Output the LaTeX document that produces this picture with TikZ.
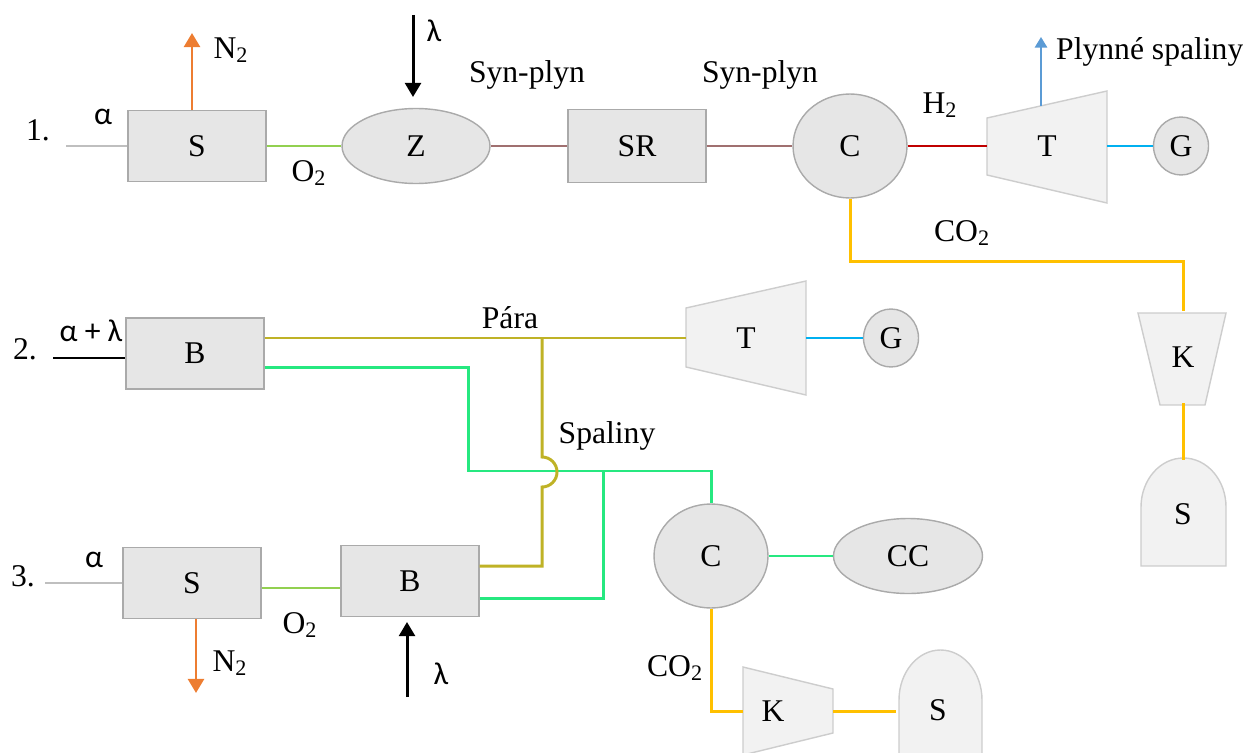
\documentclass[tikz,border=0pt]{standalone}
\usepackage{fontspec}
\setmainfont{Liberation Serif}
\newfontfamily\recke{Carlito}
\usetikzlibrary{shapes.geometric,arrows.meta}

\definecolor{vypln}{RGB}{230,230,230}
\definecolor{okraj}{RGB}{170,170,170}
\definecolor{svetla}{RGB}{242,242,242}
\definecolor{okrajsv}{RGB}{205,205,205}
\definecolor{seda}{RGB}{191,191,191}
\definecolor{oranz}{RGB}{237,125,49}
\definecolor{zelena}{RGB}{146,208,80}
\definecolor{hneda}{RGB}{160,112,112}
\definecolor{cervena}{RGB}{192,0,0}
\definecolor{azur}{RGB}{0,176,240}
\definecolor{modra}{RGB}{91,155,213}
\definecolor{zluta}{RGB}{255,192,0}
\definecolor{olivova}{RGB}{191,178,38}
\definecolor{mata}{RGB}{38,232,128}

\tikzset{
  blok/.style={draw=okraj, fill=vypln, line width=0.8pt, inner sep=0pt,
    minimum width=2.76cm, minimum height=1.42cm},
  elipsa/.style={ellipse, draw=okraj, fill=vypln, line width=0.8pt, inner sep=0pt},
  obrys/.style={draw=okrajsv, fill=svetla, line width=0.8pt},
  ramec/.style={inner sep=0pt},
  vedeni/.style={line width=1.7pt},
  sipka/.style={line width=1.7pt, -{Triangle[width=9pt,length=8pt]}},
}

\begin{document}
\begin{tikzpicture}[x=0.02cm, y=-0.02cm, font=\fontsize{18}{21}\selectfont]
\useasboundingbox (0,0) rectangle (1243,753);

% 1. radek
\node (n1) at (38,130) {1.};
\node[blok] (s1) at (197,146) {S};
\node[elipsa, minimum width=2.96cm, minimum height=1.5cm] (z) at (416,146) {Z};
\node[blok, minimum height=1.46cm] (sr) at (637,146) {SR};
\node[elipsa, minimum width=2.28cm, minimum height=2.08cm] (c1) at (850,146) {C};
\draw[obrys] (987,118) -- (1107,91) -- (1107,203) -- (987,175) -- cycle; % turbina
\node[ramec, minimum width=2.4cm, minimum height=2.24cm] (t1) at (1047,146) {T};
\node[elipsa, minimum width=1.1cm, minimum height=1.16cm] (g1) at (1181,146) {G};
\draw[obrys] (1138,313) -- (1226,313) -- (1205,405) -- (1160,405) -- cycle; % kompresor
\node[ramec, minimum width=1.76cm, minimum height=1.84cm] (k1) at (1183,357) {K};
\draw[obrys] (1141,566) -- (1141,507) arc[start angle=180, end angle=360, x radius=42.5, y radius=49]
  -- (1226,566) -- cycle; % zasobnik
\node[ramec, minimum width=1.7cm, minimum height=2.16cm] (zas1) at (1183,514) {S};

\coordinate (vstup1) at (66,146);
\coordinate (n2h) at (192,33);
\coordinate (lam1) at (413,15);
\coordinate (t1vrch) at (1041,106);
\coordinate (spal) at (1041,37);

\draw[vedeni, seda] (vstup1) -- (s1);
\draw[sipka, oranz] (s1.north -| n2h) -- (n2h);
\draw[vedeni, zelena] (s1) -- (z);
\draw[sipka] (lam1) -- ++(0,82);
\draw[vedeni, hneda] (z) -- (sr);
\draw[vedeni, hneda] (sr) -- (c1);
\draw[vedeni, cervena] (c1) -- (t1);
\draw[line width=1pt, modra, -{Triangle[width=7pt,length=6pt]}] (t1vrch) -- (spal);
\draw[vedeni, azur] (t1) -- (g1);
\draw[vedeni, zluta] (c1.south) -- ++(0,63) -| (k1);
\draw[vedeni, zluta] (k1) -- (zas1);

\node (a1) at (103,117) {\recke α};
\node (ln2a) at (231,50) {N\textsubscript{2}};
\node (lo2a) at (309,173) {O\textsubscript{2}};
\node (lla) at (434,31) {\recke λ};
\node (lsyn1) at (527,75) {Syn-plyn};
\node (lsyn2) at (760,75) {Syn-plyn};
\node (lh2) at (940,105) {H\textsubscript{2}};
\node[anchor=west] (lps) at (1050,52) {Plynné spaliny};
\node (lco2a) at (962,233) {CO\textsubscript{2}};

% 2. radek
\node (n2) at (25,349) {2.};
\node[blok] (b2) at (195,353.5) {B};
\draw[obrys] (686,308) -- (806,281) -- (806,395) -- (686,367) -- cycle;
\node[ramec, minimum width=2.4cm, minimum height=2.28cm] (t2) at (746,338) {T};
\node[elipsa, minimum width=1.1cm, minimum height=1.16cm] (g2) at (891,338) {G};

\coordinate (vstup2) at (53,358);
\coordinate (odb) at (542,338);
\coordinate (spal1) at (468,471);
\coordinate (spal2) at (603,471);

\draw[vedeni] (vstup2) -- (vstup2 -| b2.west);
\draw[vedeni, olivova] (b2.east |- t2) -- (t2);
\draw[vedeni, azur] (t2) -- (g2);

\node (alam) at (91,331) {\recke α + λ};
\node (lpara) at (510,318) {Pára};
\node (lspal) at (607,436) {Spaliny};

% 3. radek
\node (n3) at (23,576) {3.};
\node[blok] (s3) at (192,583) {S};
\node[blok] (b3) at (410,581) {B};
\node[elipsa, minimum width=2.28cm, minimum height=2.08cm] (c2) at (711,556) {C};
\node[elipsa, minimum width=2.98cm, minimum height=1.5cm] (cc) at (908,556) {CC};
\draw[obrys] (743,667) -- (833,689) -- (833,733) -- (743,755) -- cycle;
\node[ramec, minimum width=1.8cm, minimum height=1.76cm,
  label={[xshift=-8.5pt]center:K}] (k2) at (788,711) {};
\draw[obrys] (899,770) -- (899,700) arc[start angle=180, end angle=360, x radius=41.5, y radius=50]
  -- (982,770) -- cycle;
\node[ramec, minimum width=1.66cm, minimum height=2.4cm] (zas2) at (938,710) {S};

\coordinate (vstup3) at (45,583);
\coordinate (n2d) at (196,693);
\coordinate (lam3) at (407,697);
\coordinate (o2r3) at (0,588);

\draw[vedeni, seda] (vstup3) -- (s3);
\draw[sipka, oranz] (s3.south -| n2d) -- (n2d);
\draw[vedeni, zelena] (s3.east |- o2r3) -- (b3.west |- o2r3);
\draw[sipka] (lam3) -- ++(0,-75);

% spaliny a para mezi radky
\draw[vedeni, mata] ([yshift=-8.2pt]b2.east) -| (spal1) -- (c2 |- spal1) -- (c2);
\draw[vedeni, mata] ([yshift=-10.2pt]b3.east) -| (spal2);
\draw[vedeni, olivova] (odb) -- ++(0,119) arc[start angle=-90, end angle=90, radius=15]
  |- ([yshift=8.5pt]b3.east);
\draw[vedeni, mata] (c2) -- (cc);
\draw[vedeni, zluta] (c2.south) |- (k2.west);
\draw[vedeni, zluta] (k2.east) -- (k2.east -| zas2.west);

\node (a3) at (94,560) {\recke α};
\node (ln2b) at (230,663) {N\textsubscript{2}};
\node (lo2b) at (300,625) {O\textsubscript{2}};
\node (llb) at (441,674) {\recke λ};
\node (lco2b) at (675,668) {CO\textsubscript{2}};
\end{tikzpicture}
\end{document}
